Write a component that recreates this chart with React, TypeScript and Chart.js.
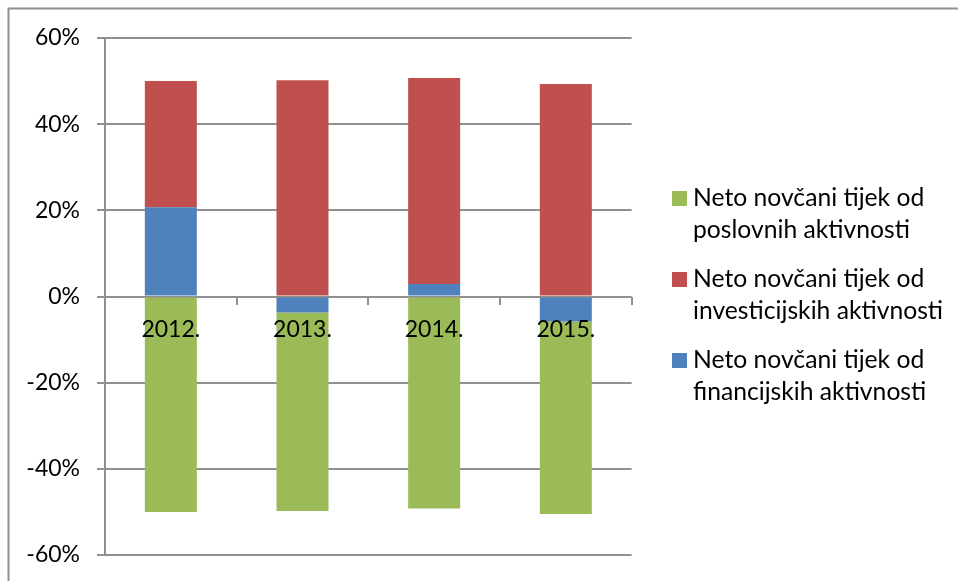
import React, { useEffect, useRef } from 'react';
import { Chart, registerables } from 'chart.js';

Chart.register(...registerables);

// ---- data ----
const categories = ['2012.', '2013.', '2014.', '2015.'];
const financijske = [20.7, -3.7, 2.9, -5.8];
const investicijske = [29.3, 50.2, 47.8, 49.3];
const poslovne = [-50.0, -46.1, -49.2, -44.7];

const nameFin = ['Neto novčani tijek od', 'financijskih aktivnosti'];
const nameInv = ['Neto novčani tijek od', 'investicijskih aktivnosti'];
const namePos = ['Neto novčani tijek od', 'poslovnih aktivnosti'];

const yMin = -60;
const yMax = 60;
const yStep = 20;

const colorFin = '#4F81BD';
const colorInv = '#C0504D';
const colorPos = '#9BBB59';
const lineColor = '#909090';
const FONT = 'Lato, "Open Sans", sans-serif';
const LEGEND_SIZE = 24.7;

function swatch(color: string) {
  const c = document.createElement('canvas');
  c.width = 15;
  c.height = 15;
  const g = c.getContext('2d')!;
  g.fillStyle = color;
  g.fillRect(0, 0, 15, 15);
  return c;
}

const framePlugin = {
  id: 'outerFrame',
  beforeDraw(chart: any) {
    const ctx = chart.ctx;
    ctx.save();
    ctx.strokeStyle = lineColor;
    ctx.lineWidth = 2;
    ctx.beginPath();
    ctx.moveTo(8.5, 2000);
    ctx.lineTo(8.5, 8.5);
    ctx.lineTo(2000, 8.5);
    ctx.stroke();
    ctx.restore();
  },
};

export default function App() {
  const ref = useRef<HTMLCanvasElement | null>(null);

  useEffect(() => {
    if (!ref.current) return;
    const names = [nameFin, nameInv, namePos];
    const swatches = [swatch(colorFin), swatch(colorInv), swatch(colorPos)];

    // measure widest legend line so the legend lands at a fixed x
    const mctx = document.createElement('canvas').getContext('2d')!;
    mctx.font = `${LEGEND_SIZE}px ${FONT}`;
    let textW = 0;
    names.forEach((n) => {
      const longest = n.reduce((a, b) => (a.length > b.length ? a : b));
      textW = Math.max(textW, mctx.measureText(longest).width);
    });
    const padRight = Math.max(0, 958 - (693 + textW + 10));

    const chart = new Chart(ref.current, {
      type: 'bar',
      data: {
        labels: categories,
        datasets: [
          { label: nameFin.join(' '), data: financijske, backgroundColor: colorFin, borderWidth: 0 },
          { label: nameInv.join(' '), data: investicijske, backgroundColor: colorInv, borderWidth: 0 },
          { label: namePos.join(' '), data: poslovne, backgroundColor: colorPos, borderWidth: 0 },
        ],
      },
      options: {
        animation: false,
        responsive: true,
        maintainAspectRatio: false,
        layout: { padding: { top: 38, bottom: 26, left: 0, right: padRight } },
        datasets: { bar: { categoryPercentage: 1, barPercentage: 0.395 } } as any,
        scales: {
          x: {
            type: 'category',
            stacked: true,
            position: { y: 0 } as any,
            grid: {
              display: true,
              drawOnChartArea: false,
              drawTicks: true,
              tickLength: 8,
              color: lineColor,
              lineWidth: 2,
              offset: true,
            },
            border: { display: false },
            ticks: { z: 1, color: '#000', font: { family: FONT, size: 23 }, padding: 11, maxRotation: 0 },
          },
          y: {
            type: 'linear',
            stacked: true,
            min: yMin,
            max: yMax,
            afterFit: (s: any) => {
              s.width = 105;
              s.paddingTop = 0;
              s.paddingBottom = 0;
            },
            grid: { color: lineColor, lineWidth: 2, tickLength: 8, drawTicks: true },
            border: { display: true, color: lineColor, width: 2 },
            ticks: {
              stepSize: yStep,
              color: '#000',
              padding: 17,
              font: { family: FONT, size: 23 },
              callback: (v: any) => v + '%',
            },
          },
          yR: {
            type: 'linear',
            position: 'right',
            display: true,
            grid: { display: false },
            border: { display: false },
            ticks: { display: false },
            afterFit: (s: any) => { s.width = 29; },
          },
        } as any,
        plugins: {
          tooltip: { enabled: false },
          legend: {
            position: 'right',
            align: 'center',
            maxWidth: 500,
            title: { display: true, text: '', font: { size: 5, lineHeight: 1 }, padding: 0 },
            labels: {
              color: '#000',
              font: { family: FONT, size: LEGEND_SIZE, lineHeight: 32 / LEGEND_SIZE },
              padding: 17,
              usePointStyle: true,
              pointStyleWidth: 3,
              boxHeight: 15,
              generateLabels: (c: any) => {
                const items = (Chart.defaults.plugins.legend.labels as any).generateLabels(c);
                return items
                  .map((it: any) => ({
                    ...it,
                    text: names[it.datasetIndex],
                    pointStyle: swatches[it.datasetIndex],
                  }))
                  .reverse();
              },
            },
          } as any,
        },
      },
      plugins: [framePlugin],
    });
    return () => chart.destroy();
  }, []);

  return (
    <div style={{ position: 'absolute', left: 0, top: 0, width: 958, height: 581 }}>
      <canvas ref={ref} />
    </div>
  );
}
